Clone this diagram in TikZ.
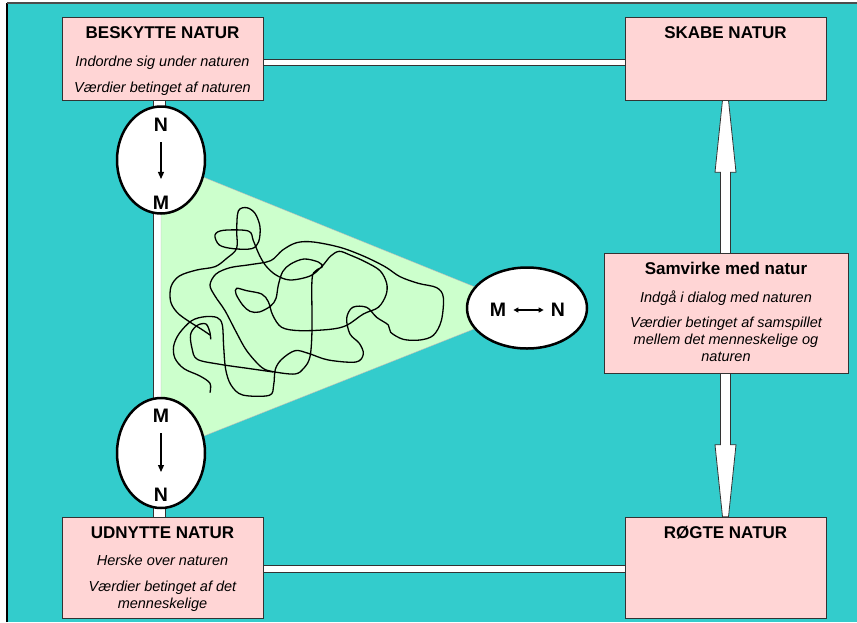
\documentclass[tikz,border=0pt]{standalone}
\usepackage{fontspec}
\setmainfont{Liberation Sans}
\usepackage{tikz}
\usetikzlibrary{arrows.meta,calc,shapes.geometric,backgrounds}

\definecolor{sea}{HTML}{33CCCC}
\definecolor{rose}{HTML}{FFD5D5}
\definecolor{meadow}{HTML}{CCFFCC}
\definecolor{rim}{HTML}{333333}

\begin{document}
\begin{tikzpicture}[x=1pt,y=-1pt,>={Triangle[length=7pt,width=6pt]},
                    semithick]
  \tikzstyle{natbox}=[draw=rim,thin,fill=rose,minimum width=201pt,inner sep=0pt]
  \tikzstyle{ttl}=[font=\bfseries\fontsize{17}{20}\selectfont,anchor=base,inner sep=0pt]
  \tikzstyle{txt}=[font=\itshape\fontsize{14.5}{17}\selectfont,anchor=base,align=center,inner sep=0pt]
  \tikzstyle{oval}=[ellipse,draw=black,line width=2.5pt,fill=white,inner sep=0pt]
  \tikzstyle{letter}=[font=\bfseries\fontsize{19.5}{22}\selectfont,inner sep=0pt]
  \tikzstyle{bar}=[draw=rim,line width=0.8pt,double=white]
  \tikzstyle{block}=[draw=rim,line width=0.8pt,fill=white]

  \useasboundingbox (0,0) rectangle (857,622);

  % the four corners
  \node[natbox,minimum height=83pt]  (beskytte) at (162.5,58.5)  {};
  \node[natbox,minimum height=83pt]  (skabe)    at (725.5,58.5)  {};
  \node[natbox,minimum height=101pt] (udnytte)  at (162.5,567.5) {};
  \node[natbox,minimum height=101pt] (roegte)   at (725.5,567.5) {};
  \node[natbox,minimum width=244pt,minimum height=120pt] (samvirke) at (726,313) {};

  % the three relations
  \node[oval,minimum width=88pt,minimum height=107pt]  (nm)   at (161,160) {};
  \node[oval,minimum width=88pt,minimum height=110pt]  (mn)   at (161,453) {};
  \node[oval,minimum width=120pt,minimum height=81pt]  (both) at (527,308) {};

  \begin{scope}[on background layer]
    \fill[sea] (7,3) rectangle (857,622);
    \draw[line width=1.5pt] (7,622) -- (7,3);
    \draw[gray!60!black,line width=1.5pt] (7,3) -- (857,3);

    \draw[bar,double distance=5.5pt] ($(beskytte.east)+(0,4)$) -- ($(skabe.west)+(0,4)$);
    \draw[bar,double distance=6.5pt] ($(udnytte.east)+(0,1.5)$) -- ($(roegte.west)+(0,1.5)$);
    \draw[bar,double distance=11.5pt] ($(beskytte.south)+(-3,0)$) -- ($(udnytte.north)+(-3,0)$);

    \draw[block] ($(skabe.south)+(-3,0)$) -- ($(skabe.south)+(3,0)$) -- ++(7.5,72) -- ++(-5.5,0)
      -- ($(roegte.north)+(5,-72)$) -- ++(5.5,0) -- ($(roegte.north)+(3,0)$)
      -- ($(roegte.north)+(-3,0)$) -- ++(-7.5,-72) -- ++(5.5,0)
      -- ($(skabe.south)+(-5,72)$) -- ++(-5.5,0) -- cycle;

    \filldraw[fill=meadow,draw=gray!55,thin] (nm.center) -- (both.center) -- (mn.center) -- cycle;

    % the tangle
    \begin{scope}[shift={(100,170)},scale=1/3,line width=1.3pt]
      \draw plot[smooth,tension=0.55] coordinates {
        (330,668) (330,640) (300,618) (252,596) (225,565) (221,528) (238,490) (275,452)
        (315,440) (352,443) (367,465) (371,530) (377,598) (393,645) (428,675) (508,676)
        (521,645) (526,598) (545,568) (585,542) (625,550) (685,570) (768,576) (790,552)
        (778,520) (750,492) (740,445) (758,412) (800,412) (830,442) (865,465) (872,487)
        (910,508) (960,510) (1000,496) (1024,452) (1030,382) (1010,353) (955,340) (900,320)
        (855,290) (790,258) (720,232) (640,216) (590,218) (548,240) (512,272) (450,284)
        (390,293) (348,312) (330,345) (345,378) (375,422) (408,485) (440,542) (485,592)
        (520,605) (585,612) (612,594) (630,560) (636,480) (636,330) (648,302) (667,290)
        (655,276) (612,267) (572,282) (548,305) (535,345) (528,385) (512,408) (478,426)
        (450,424) (428,405) (408,372) (410,355) (440,362) (485,372) (505,395) (518,435)
        (545,472) (600,482) (690,478) (740,466) (790,432) (835,412) (858,375) (860,340)
        (840,302) (795,275) (750,255) (718,244) (692,258) (665,290) (630,318) (570,330)
        (528,315) (498,288) (478,255) (460,212) (445,183) (370,181) (345,195) (358,225)
        (400,236) (455,236) (476,215) (480,170) (465,130) (440,113) (415,123) (410,180)
        (410,235) (380,265) (345,290) (290,300) (238,318) (213,350) (212,395) (232,428)
        (268,455) (305,478) (330,495)};
      \draw plot[smooth,tension=0.55] coordinates {
        (332,508) (330,488) (318,462) (292,466) (272,492) (276,535) (292,568) (360,583)
        (450,596) (520,606)};
    \end{scope}
  \end{scope}

  % texts in the boxes
  \node[ttl] (beskytteT) at ($(beskytte.north)+(0,22)$)   {BESKYTTE NATUR};
  \node[txt] (beskytteA) at ($(beskytte.north)+(0,49.5)$) {Indordne sig under naturen};
  \node[txt] (beskytteB) at ($(beskytte.north)+(0,75.5)$) {Værdier betinget af naturen};
  \node[ttl] (skabeT)    at ($(skabe.north)+(0,22)$)      {SKABE NATUR};
  \node[ttl] (udnytteT)  at ($(udnytte.north)+(0,22)$)    {UDNYTTE NATUR};
  \node[txt] (udnytteA)  at ($(udnytte.north)+(0,49)$)    {Herske over naturen};
  \node[txt] (udnytteB)  at ($(udnytte.north)+(0,92)$)    {Værdier betinget af det\\menneskelige};
  \node[ttl] (roegteT)   at ($(roegte.north)+(0,22)$)     {RØGTE NATUR};
  \node[ttl] (samvirkeT) at ($(samvirke.north)+(0,22)$)   {Samvirke med natur};
  \node[txt] (samvirkeA) at ($(samvirke.north)+(0,50)$)   {Indgå i dialog med naturen};
  \node[txt] (samvirkeB) at ($(samvirke.north)+(0,109)$)  {Værdier betinget af samspillet\\mellem det menneskelige og\\naturen};

  % letters in the ovals
  \node[letter] (nmN)   at ($(nm.center)+(0,-35)$)  {N};
  \node[letter] (nmM)   at ($(nm.center)+(0,43)$)   {M};
  \node[letter] (mnM)   at ($(mn.center)+(0,-37)$)  {M};
  \node[letter] (mnN)   at ($(mn.center)+(0,42)$)   {N};
  \node[letter] (bothM) at ($(both.center)+(-29,2)$) {M};
  \node[letter] (bothN) at ($(both.center)+(31,2)$)  {N};

  \draw[->,line width=1.2pt,shorten <=10pt,shorten >=17pt] (nmN) -- (nmM);
  \draw[->,line width=1.2pt,shorten <=10pt,shorten >=16pt] (mnM) -- (mnN);
  \draw[{Triangle[length=5pt,width=5pt]}-{Triangle[length=5pt,width=5pt]},line width=1.2pt,
        shorten <=7pt,shorten >=7pt] (bothM) -- (bothN);

\end{tikzpicture}
\end{document}
